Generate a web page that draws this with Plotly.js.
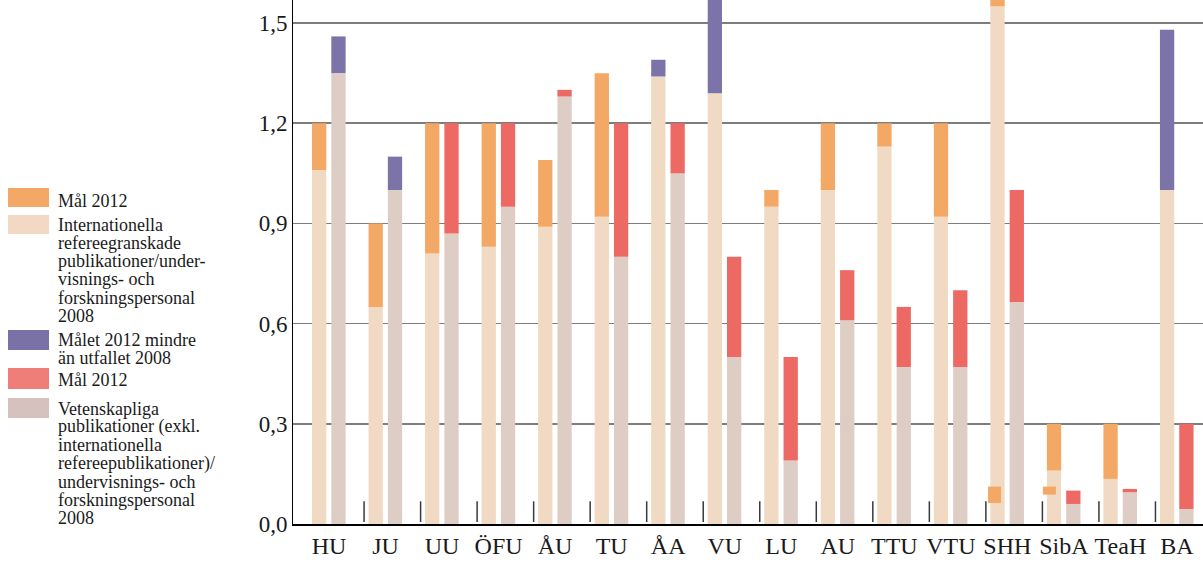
<!DOCTYPE html>
<html>
<head>
<meta charset="utf-8">
<script src="https://cdn.plot.ly/plotly-3.0.1.min.js"></script>
<style>
  html, body { margin: 0; padding: 0; background: #ffffff; }
  #chart { width: 1203px; height: 562px; }
</style>
</head>
<body>
<div id="chart"></div>
<script>
// ---------- DATA ----------
const categories = ['HU','JU','UU','ÖFU','ÅU','TU','ÅA','VU','LU','AU','TTU','VTU','SHH','SibA','TeaH','BA'];
const tickValues = [0, 0.3, 0.6, 0.9, 1.2, 1.5];
const tickLabels = ['0,0','0,3','0,6','0,9','1,2','1,5'];

// Left bar: internationella refereegranskade publikationer 2008 (beige)
const intl2008      = [1.06, 0.65, 0.81, 0.83, 0.89, 0.92, 1.34, 1.29, 0.95, 1.00, 1.13, 0.92, 1.55, 0.16, 0.135, 1.00];
// Left bar: Mål 2012 (orange top)
const intlGoal2012  = [1.20, 0.90, 1.20, 1.20, 1.09, 1.35, null, null, 1.00, 1.20, 1.20, 1.20, 1.60, 0.30, 0.30, null];
// Left bar: Målet 2012 mindre än utfallet 2008 (purple top)
const intlPurpleTop = [null, null, null, null, null, null, 1.39, 1.65, null, null, null, null, null, null, null, 1.48];

// Right bar: vetenskapliga publikationer 2008 (grey)
const vet2008       = [1.35, 1.00, 0.87, 0.95, 1.28, 0.80, 1.05, 0.50, 0.19, 0.61, 0.47, 0.47, 0.665, 0.06, 0.095, 0.045];
// Right bar: Mål 2012 (red top)
const vetGoal2012   = [null, null, 1.20, 1.20, 1.30, 1.20, 1.20, 0.80, 0.50, 0.76, 0.65, 0.70, 1.00, 0.10, 0.105, 0.30];
// Right bar: Målet 2012 mindre än utfallet 2008 (purple top)
const vetPurpleTop  = [1.46, 1.10, null, null, null, null, null, null, null, null, null, null, null, null, null, null];

// Small orange marks near the base (SHH, SibA)
const markLow  = [null, null, null, null, null, null, null, null, null, null, null, null, 0.063, 0.088, null, null];
const markHigh = [null, null, null, null, null, null, null, null, null, null, null, null, 0.112, 0.112, null, null];

// ---------- STYLE ----------
const C = {
  orange: '#F3A865', beige: '#F1DAC3', purple: '#7C74A8',
  grey: '#DECDC5', red: '#EC6964'
};
const PITCH = 56.53;          // px per category
const W  = 14.3 / PITCH;      // bar width
const O1 = -17.0 / PITCH;     // left bar offset
const O2 = 2.3 / PITCH;       // right bar offset

function seg(base, top) {
  return top.map((t, i) => (t == null || base[i] == null) ? null : +(t - base[i]).toFixed(4));
}
function barTrace(y, base, color, offset, width) {
  return {
    type: 'bar', x: categories, y: y, base: base,
    offset: offset, width: width,
    marker: { color: color, line: { width: 0 } },
    showlegend: false, hoverinfo: 'skip'
  };
}
const zeros = categories.map(() => 0);

const markOffset = categories.map(c => c === 'SibA' ? -21.0 / PITCH : -19.3 / PITCH);

const traces = [
  barTrace(intl2008, zeros, C.beige, O1, W),
  barTrace(seg(intl2008, intlGoal2012), intl2008, C.orange, O1, W),
  barTrace(seg(intl2008, intlPurpleTop), intl2008, C.purple, O1, W),
  barTrace(vet2008, zeros, C.grey, O2, W),
  barTrace(seg(vet2008, vetGoal2012), vet2008, C.red, O2, W),
  barTrace(seg(vet2008, vetPurpleTop), vet2008, C.purple, O2, W),
  barTrace(seg(markLow, markHigh), markLow, C.orange, markOffset, 13 / PITCH)
];

// ---------- LAYOUT ----------
const L = 293, T = 0, PW = 910, PH = 524;
const px2x = px => (px - L) / PW;
const py2y = py => (PH + T - py) / PH;

const shapes = [];
const annotations = [];

// group separators
for (let i = 1; i < categories.length; i++) {
  shapes.push({
    type: 'line', xref: 'x', yref: 'y',
    x0: i - 0.38, x1: i - 0.38, y0: 0.006, y1: 0.068,
    line: { color: '#3a3a3a', width: 1.5 }
  });
}

// custom legend
const legendItems = [
  { color: '#F3A865', top: 188, bottom: 207, first: 206.7, lines: ['Mål 2012'] },
  { color: '#F1D9C3', top: 215, bottom: 234, first: 230.0,
    lines: ['Internationella','refereegranskade','publikationer/under-','visnings- och','forskningspersonal','2008'] },
  { color: '#7A72A6', top: 330, bottom: 350, first: 345.5, lines: ['Målet 2012 mindre','än utfallet 2008'] },
  { color: '#EF7E79', top: 368, bottom: 389, first: 385.0, lines: ['Mål 2012'] },
  { color: '#D5C2BF', top: 398, bottom: 418, first: 414.0,
    lines: ['Vetenskapliga','publikationer (exkl.','internationella','refereepublikationer)/','undervisnings- och','forskningspersonal','2008'] }
];
const LINE_STEP = 18.3;
legendItems.forEach(it => {
  shapes.push({
    type: 'rect', xref: 'paper', yref: 'paper',
    x0: px2x(8), x1: px2x(49), y0: py2y(it.bottom), y1: py2y(it.top),
    fillcolor: it.color, line: { width: 0 }
  });
  it.lines.forEach((t, k) => {
    const baseline = it.first + k * LINE_STEP;
    annotations.push({
      xref: 'paper', yref: 'paper', x: px2x(57), y: py2y(baseline - 5.5),
      xanchor: 'left', yanchor: 'middle', showarrow: false, text: t,
      font: { family: 'Liberation Serif, Times New Roman, serif', size: 18, color: '#1a1a1a' },
      borderpad: 0
    });
  });
});

const layout = {
  width: 1203, height: 562,
  margin: { l: L, r: 0, t: T, b: 562 - PH - T, pad: 0 },
  paper_bgcolor: '#ffffff', plot_bgcolor: '#ffffff',
  barmode: 'overlay',
  showlegend: false,
  font: { family: 'Liberation Serif, Times New Roman, serif', color: '#1a1a1a' },
  xaxis: {
    type: 'category', range: [-0.637, 15.461],
    showline: true, linecolor: '#000000', linewidth: 1.5,
    ticks: '', showgrid: false, zeroline: false,
    tickfont: { family: 'Liberation Serif, Times New Roman, serif', size: 24, color: '#1a1a1a' },
    fixedrange: true
  },
  yaxis: {
    range: [0, 1.569],
    tickmode: 'array', tickvals: tickValues, ticktext: tickLabels,
    showline: true, linecolor: '#000000', linewidth: 1,
    showgrid: true, gridcolor: '#7d7d7d', gridwidth: 1.5,
    zeroline: false, ticks: '',
    tickfont: { family: 'Liberation Serif, Times New Roman, serif', size: 23, color: '#1a1a1a' },
    fixedrange: true
  },
  shapes: shapes,
  annotations: annotations
};

Plotly.newPlot('chart', traces, layout, { displayModeBar: false, staticPlot: true });
</script>
</body>
</html>
